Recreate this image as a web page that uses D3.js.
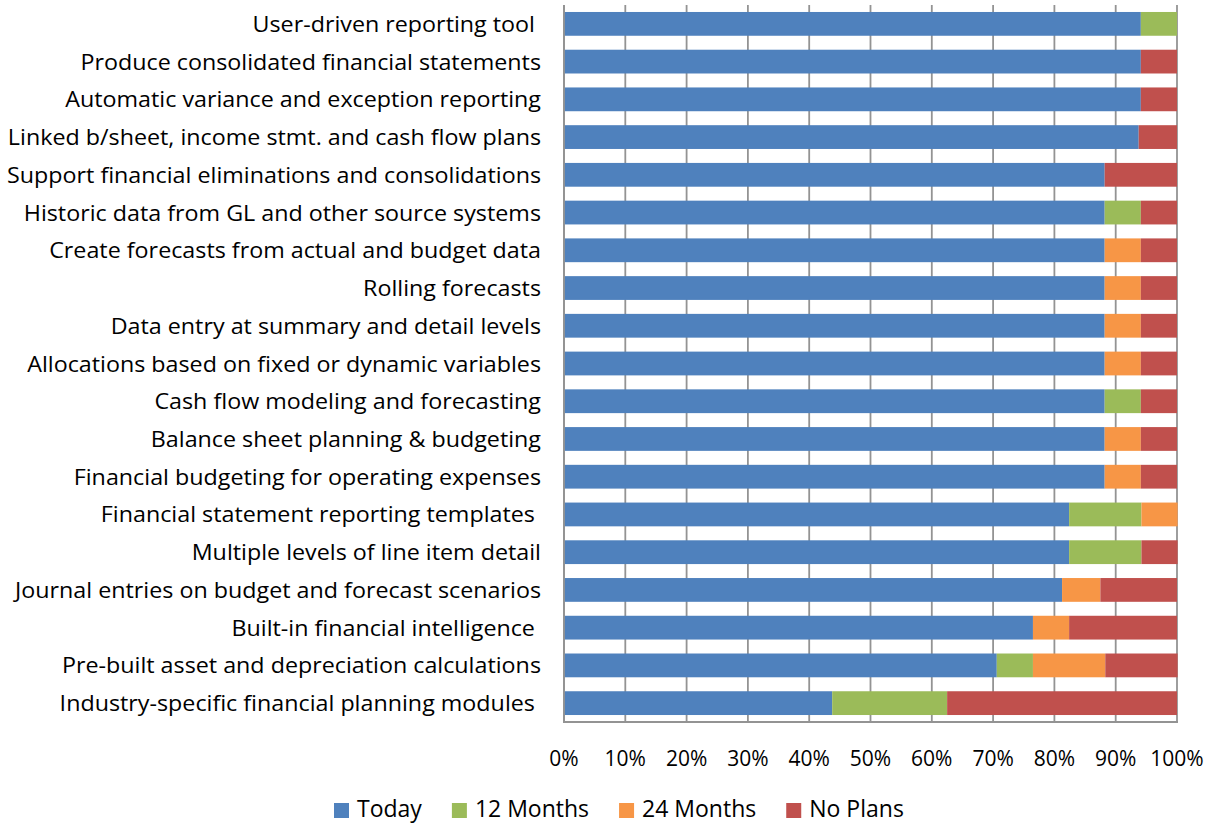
<!DOCTYPE html>
<html>
<head>
<meta charset="utf-8">
<script src="https://cdn.jsdelivr.net/npm/d3@7"></script>
<style>
  body { margin: 0; background: #fff; }
  text { font-family: "Open Sans", sans-serif; fill: #000; white-space: pre; }
</style>
</head>
<body>
<div id="chart"></div>
<script>
// categories, top to bottom
var categories = [
  "User-driven reporting tool ",
  "Produce consolidated financial statements",
  "Automatic variance and exception reporting",
  "Linked b/sheet, income stmt. and cash flow plans",
  "Support financial eliminations and consolidations",
  "Historic data from GL and other source systems",
  "Create forecasts from actual and budget data",
  "Rolling forecasts",
  "Data entry at summary and detail levels",
  "Allocations based on fixed or dynamic variables",
  "Cash flow modeling and forecasting",
  "Balance sheet planning & budgeting",
  "Financial budgeting for operating expenses",
  "Financial statement reporting templates ",
  "Multiple levels of line item detail",
  "Journal entries on budget and forecast scenarios",
  "Built-in financial intelligence ",
  "Pre-built asset and depreciation calculations",
  "Industry-specific financial planning modules "
];
var today    = [94.1, 94.1, 94.1, 93.75, 88.2, 88.2, 88.2, 88.2, 88.2, 88.2, 88.2, 88.2, 88.2, 82.4, 82.4, 81.25, 76.5, 70.6, 43.75];
var months12 = [5.9, 0, 0, 0, 0, 5.9, 0, 0, 0, 0, 5.9, 0, 0, 11.8, 11.8, 0, 0, 5.9, 18.75];
var months24 = [0, 0, 0, 0, 0, 0, 5.9, 5.9, 5.9, 5.9, 0, 5.9, 5.9, 5.9, 0, 6.25, 5.9, 11.8, 0];
var noPlans  = [0, 5.9, 5.9, 6.25, 11.8, 5.9, 5.9, 5.9, 5.9, 5.9, 5.9, 5.9, 5.9, 0, 5.9, 12.5, 17.6, 11.8, 37.5];

var seriesNames = ["Today", "12 Months", "24 Months", "No Plans"];
var seriesColors = ["#4F81BD", "#9BBB59", "#F79646", "#C0504D"];
var xTicks = [0, 10, 20, 30, 40, 50, 60, 70, 80, 90, 100];

var W = 1214, H = 824;
var plot = { left: 564, right: 1177, top: 5, bottom: 722 };

var svg = d3.select("#chart").append("svg")
  .attr("width", W)
  .attr("height", H);

var rows = categories.map(function(c, i) {
  return { cat: c, "Today": today[i], "12 Months": months12[i], "24 Months": months24[i], "No Plans": noPlans[i] };
});

var xScale = d3.scaleLinear().domain([0, 100]).range([plot.left, plot.right]);
var yScale = d3.scaleBand().domain(categories).range([plot.top, plot.bottom])
  .paddingInner(0.37).paddingOuter(0.185);

// gridlines
svg.append("g").selectAll("line")
  .data(xTicks)
  .enter().append("line")
  .attr("x1", function(d) { return xScale(d); })
  .attr("x2", function(d) { return xScale(d); })
  .attr("y1", plot.top)
  .attr("y2", plot.bottom)
  .style("stroke", "#939393")
  .style("stroke-width", 1.8);

// bars
var stack = d3.stack().keys(seriesNames)(rows);
svg.append("g").selectAll("g")
  .data(stack)
  .enter().append("g")
  .style("fill", function(d, i) { return seriesColors[i]; })
  .selectAll("rect")
  .data(function(d) { return d; })
  .enter().append("rect")
  .attr("x", function(d) { return xScale(d[0]); })
  .attr("y", function(d) { return yScale(d.data.cat); })
  .attr("width", function(d) { return Math.max(0, xScale(d[1]) - xScale(d[0])); })
  .attr("height", yScale.bandwidth());

// axis lines
svg.append("line")
  .attr("x1", plot.left).attr("x2", plot.left).attr("y1", plot.top).attr("y2", plot.bottom + 1)
  .style("stroke", "#939393").style("stroke-width", 1.8);
svg.append("line")
  .attr("x1", plot.left - 1).attr("x2", plot.right + 1).attr("y1", plot.bottom).attr("y2", plot.bottom)
  .style("stroke", "#939393").style("stroke-width", 1.8);

// category labels
var labels = svg.append("g").selectAll("text")
  .data(categories)
  .enter().append("text")
  .attr("x", 541)
  .attr("y", function(d) { return yScale(d) + yScale.bandwidth() / 2 + 8; })
  .attr("text-anchor", "end")
  .style("font-size", "22px")
  .text(function(d) { return d; });

// squeeze labels so the longest spans about 534px, as in the reference
var longest = labels.filter(function(d) { return d === categories[4]; }).node().getComputedTextLength();
var k = 534 / longest;
labels.each(function() {
  var w = this.getComputedTextLength();
  d3.select(this).attr("textLength", w * k).attr("lengthAdjust", "spacingAndGlyphs");
});

// x tick labels
svg.append("g").selectAll("text")
  .data(xTicks)
  .enter().append("text")
  .attr("x", function(d) { return xScale(d); })
  .attr("y", 766)
  .attr("text-anchor", "middle")
  .style("font-size", "21px")
  .text(function(d) { return d + "%"; });

// legend
var legend = svg.append("g");
var lx = 334;
seriesNames.forEach(function(name, i) {
  legend.append("rect")
    .attr("x", lx).attr("y", 803)
    .attr("width", 15).attr("height", 15)
    .style("fill", seriesColors[i]);
  var t = legend.append("text")
    .attr("x", lx + 23).attr("y", 817)
    .style("font-size", "23px")
    .text(name);
  lx += 23 + t.node().getComputedTextLength() + 30;
});
</script>
</body>
</html>
